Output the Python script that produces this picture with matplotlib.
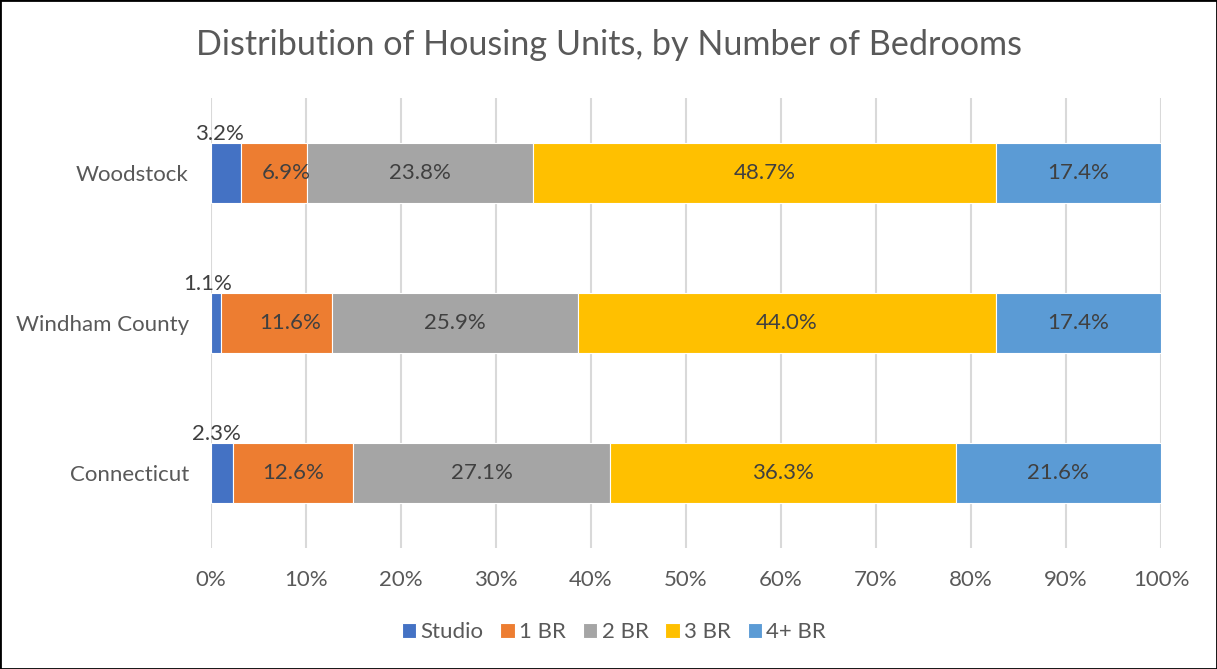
import numpy as np
import matplotlib.pyplot as plt
from matplotlib.patches import Rectangle

plt.rcParams['font.family'] = ['Lato', 'DejaVu Sans']

places = ["Connecticut", "Windham County", "Woodstock"]
series = ["Studio", "1 BR", "2 BR", "3 BR", "4+ BR"]
studio = [2.3, 1.1, 3.2]
br1 = [12.6, 11.6, 6.9]
br2 = [27.1, 25.9, 23.8]
br3 = [36.3, 44.0, 48.7]
br4 = [21.6, 17.4, 17.4]
colors = ["#4472C4", "#ED7D31", "#A5A5A5", "#FFC000", "#5B9BD5"]

txt = "#595959"
vals = np.array([studio, br1, br2, br3, br4])
shares = vals / vals.sum(axis=0) * 100

# small nudges (in points) for labels that were moved by hand in the original
nudge = {(0, 0): -4, (0, 1): -6, (0, 2): -5, (1, 1): 10, (1, 2): 9}

fig = plt.figure(figsize=(12.17, 6.69), dpi=100)
ax = fig.add_axes([211 / 1217, 1 - 548 / 669, 950 / 1217, 450 / 669])

y = np.arange(len(places))
left = np.zeros(len(places))
for i, name in enumerate(series):
    ax.barh(y, shares[i], left=left, height=0.4, color=colors[i],
            edgecolor="white", linewidth=0.8, label=name, zorder=3)
    for j in range(len(places)):
        lab = f"{vals[i, j]:.1f}%"
        dx = nudge.get((i, j), 0)
        if i == 0:
            # studio labels sit just above the bar start
            ax.annotate(lab, (left[j] + shares[i, j] / 2, y[j] + 0.2),
                        xytext=(dx, -1), textcoords="offset points", ha="center",
                        va="bottom", fontsize=16, color="#404040", zorder=4)
        else:
            ax.annotate(lab, (left[j] + shares[i, j] / 2, y[j]),
                        xytext=(dx, 0), textcoords="offset points", ha="center",
                        va="center", fontsize=16, color="#404040", zorder=4)
    left += shares[i]

ax.set_xlim(0, 100)
ax.set_ylim(-0.5, 2.5)
ax.set_xticks(np.arange(0, 101, 10))
ax.set_xticklabels([f"{t}%" for t in range(0, 101, 10)])
ax.set_yticks(y)
ax.set_yticklabels(places)
ax.tick_params(length=0, labelsize=16, labelcolor=txt)
ax.tick_params(axis="x", pad=16)
ax.tick_params(axis="y", pad=16)
ax.grid(axis="x", color="#D9D9D9", linewidth=1.5, zorder=0)
for s in ax.spines.values():
    s.set_visible(False)

fig.suptitle("Distribution of Housing Units, by Number of Bedrooms",
             x=609 / 1217, y=1 - 45 / 669, va="center", fontsize=24.6, color=txt)

fig.legend(loc="center", bbox_to_anchor=(614 / 1217, 1 - 632 / 669), ncol=5,
           frameon=False, fontsize=16, labelcolor=txt, handlelength=0.65,
           handleheight=0.65, handletextpad=0.2, columnspacing=0.75)

fig.add_artist(Rectangle((0, 0), 1, 1, transform=fig.transFigure,
                         fill=False, edgecolor="black", linewidth=2))

fig.savefig("out.png", dpi=100)
